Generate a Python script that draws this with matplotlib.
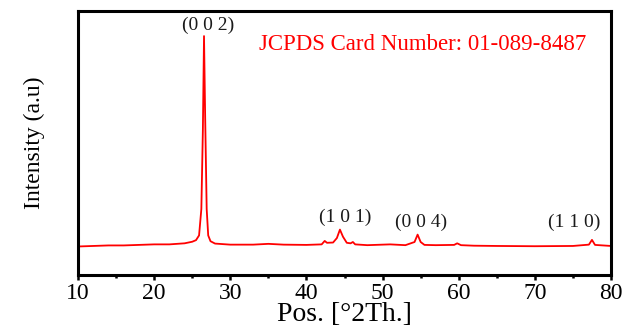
import matplotlib
matplotlib.use("Agg")
import matplotlib.pyplot as plt
from matplotlib.ticker import MultipleLocator

# XRD pattern (2theta in degrees, intensity in arbitrary units)
two_theta = [10, 12, 14, 16, 18, 20, 22, 24, 25, 25.5, 25.9, 26.2, 26.4, 26.55,
             26.7, 26.9, 27.1, 27.4, 28, 30, 33, 35, 37, 40, 42, 42.4, 42.7, 43.5,
             44.0, 44.4, 44.8, 45.3, 45.8, 46.1, 46.4, 48, 51, 53, 54.2, 54.6,
             55.0, 55.5, 57, 59.4, 59.8, 60.3, 62, 65, 70, 75, 77.1, 77.5, 77.9, 80]
intensity = [10.8, 11.0, 11.2, 11.2, 11.4, 11.6, 11.6, 12.0, 12.6, 13.2, 15.0, 25.0, 55.0, 90.5,
             60.0, 25.0, 15.0, 12.8, 11.9, 11.5, 11.5, 11.8, 11.5, 11.4, 11.6, 12.9, 12.2, 12.3,
             14.0, 17.2, 14.5, 12.2, 12.0, 12.5, 11.6, 11.3, 11.6, 11.3, 12.5, 15.3,
             12.5, 11.4, 11.3, 11.4, 12.0, 11.3, 11.1, 11.0, 10.9, 11.0, 11.5, 13.3, 11.4, 11.0]

peak_labels = ["(0 0 2)", "(1 0 1)", "(0 0 4)", "(1 1 0)"]
peak_label_x = [27.1, 45.1, 55.1, 75.1]
peak_label_y = [94.7, 22.0, 20.1, 20.1]
card_text = "JCPDS Card Number: 01-089-8487"
x_ticks = [10, 20, 30, 40, 50, 60, 70, 80]

fig = plt.figure(figsize=(6.26, 3.26), dpi=100)
ax = fig.add_axes([78/626, 1 - 275/326, (611-78)/626, (275-11)/326])

ax.plot(two_theta, intensity, color="#ff0000", lw=1.3)
ax.set_xlim(10, 80)
ax.set_ylim(0, 100)

serif = ["Liberation Serif", "DejaVu Serif"]
for lab, x, y in zip(peak_labels, peak_label_x, peak_label_y):
    ax.text(x, y, lab, ha="center", va="center", fontsize=14, family=serif, color="#1a1a1a")
ax.text(0.647, 0.875, card_text, transform=ax.transAxes, ha="center", va="center",
        fontsize=16.5, family=serif, color="#ff0000")

ax.set_xticks(x_ticks)
ax.xaxis.set_minor_locator(MultipleLocator(5))
ax.set_yticks([])
ax.tick_params(axis="x", which="major", direction="out", length=3.5, width=1.8,
               labelsize=17, pad=2)
ax.tick_params(axis="x", which="minor", direction="out", length=2.5, width=1.8)
for t in ax.get_xticklabels():
    t.set_family(serif)
for s in ax.spines.values():
    s.set_linewidth(2.2)

ax.set_xlabel("Pos. [°2Th.]", fontsize=20, family=serif, labelpad=-1)
ax.set_ylabel("Intensity (a.u)", fontsize=17, family=serif, labelpad=24)

fig.savefig("out.png", dpi=100)
